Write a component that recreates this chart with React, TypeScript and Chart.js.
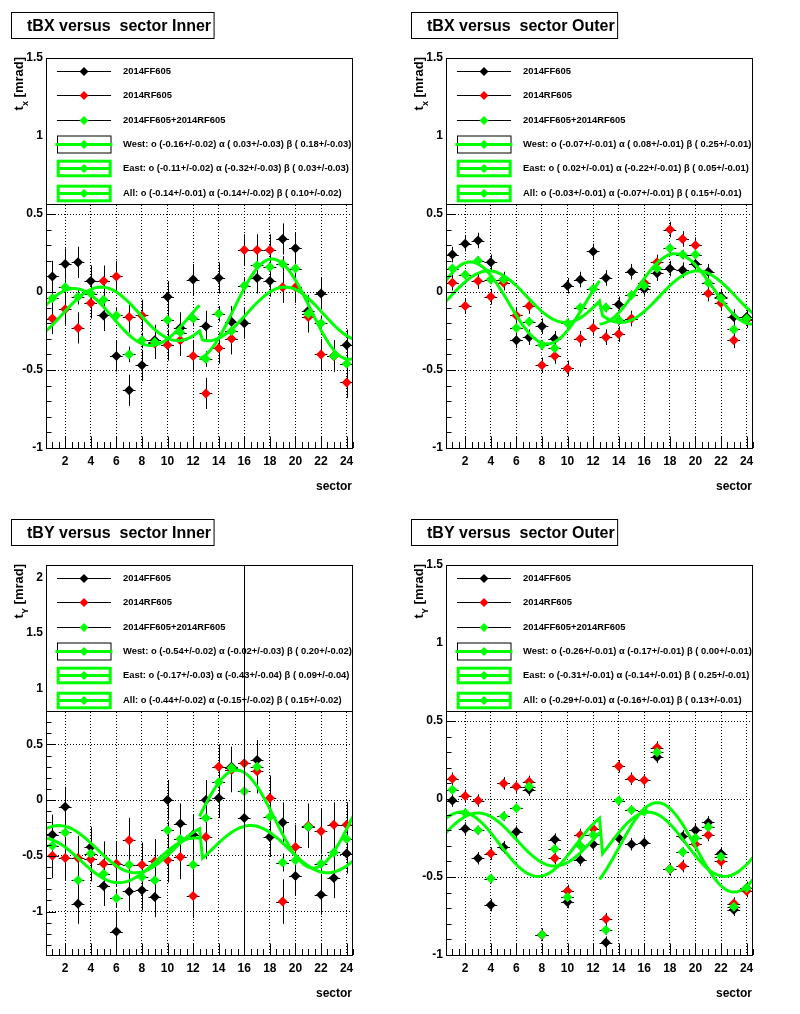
import React, { useEffect, useRef } from "react";
import { Chart, registerables } from "chart.js";

Chart.register(...registerables);

const FONT = '"Liberation Sans", Arial, Helvetica, sans-serif';
const BLACK = "#000000";
const RED = "#ff0000";
const GREEN = "#00ff00";

// ---------- shared categories / ticks ----------
const sectors = [1, 2, 3, 4, 5, 6, 7, 8, 9, 10, 11, 12, 13, 14, 15, 16, 17, 18, 19, 20, 21, 22, 23, 24];
const xTickValues = [2, 4, 6, 8, 10, 12, 14, 16, 18, 20, 22, 24];
const yTicksStandard = [-1, -0.5, 0, 0.5, 1, 1.5];
const yTicksInnerY = [-1, -0.5, 0, 0.5, 1, 1.5, 2];
const seriesLabels = ["2014FF605", "2014RF605", "2014FF605+2014RF605"];
const fitLabels = ["West", "East", "All"];

// ---------- tBX Inner ----------
const tbxInnerFF = [0.10, 0.18, 0.19, 0.07, -0.15, -0.41, -0.63, -0.47, -0.31, -0.03, -0.23, 0.08, -0.22, 0.09, -0.19, -0.20, 0.09, 0.07, 0.34, 0.28, -0.12, -0.01, -0.41, -0.34];
const tbxInnerRF = [-0.17, -0.11, -0.23, -0.07, 0.07, 0.10, -0.16, -0.15, -0.33, -0.34, -0.31, -0.41, -0.65, -0.36, -0.30, 0.27, 0.27, 0.27, 0.03, 0.03, -0.16, -0.40, -0.41, -0.58];
const tbxInnerAll = [-0.04, 0.03, -0.03, -0.01, -0.05, -0.15, -0.40, -0.31, -0.32, -0.18, -0.26, -0.17, -0.43, -0.14, -0.25, 0.04, 0.17, 0.16, 0.18, 0.15, -0.14, -0.20, -0.41, -0.46];
const tbxInnerErrors = [0.10, 0.10, 0.05];
// fit parameters: o, alpha, beta  and their errors
const tbxInnerWest = [-0.16, 0.03, 0.18];
const tbxInnerWestErr = [0.02, 0.03, 0.03];
const tbxInnerEast = [-0.11, -0.32, 0.03];
const tbxInnerEastErr = [0.02, 0.03, 0.03];
const tbxInnerFitAll = [-0.14, -0.14, 0.10];
const tbxInnerFitAllErr = [0.01, 0.02, 0.02];

// ---------- tBX Outer ----------
const tbxOuterFF = [0.24, 0.31, 0.33, 0.19, 0.08, -0.31, -0.29, -0.22, -0.30, 0.04, 0.08, 0.26, 0.09, -0.08, 0.13, 0.02, 0.12, 0.15, 0.14, 0.18, 0.13, -0.03, -0.16, -0.16];
const tbxOuterRF = [0.06, -0.09, 0.07, -0.03, 0.06, -0.15, -0.09, -0.47, -0.41, -0.49, -0.30, -0.23, -0.29, -0.27, -0.17, 0.06, 0.19, 0.40, 0.34, 0.30, -0.01, -0.07, -0.31, -0.18];
const tbxOuterAll = [0.15, 0.11, 0.20, 0.08, 0.08, -0.23, -0.19, -0.34, -0.36, -0.20, -0.10, 0.02, -0.10, -0.18, -0.02, 0.04, 0.15, 0.28, 0.24, 0.24, 0.06, -0.04, -0.24, -0.17];
const tbxOuterErrors = [0.05, 0.05, 0.03];
const tbxOuterWest = [-0.07, 0.08, 0.25];
const tbxOuterWestErr = [0.01, 0.01, 0.01];
const tbxOuterEast = [0.02, -0.22, 0.05];
const tbxOuterEastErr = [0.01, 0.01, 0.01];
const tbxOuterFitAll = [-0.03, -0.07, 0.15];
const tbxOuterFitAllErr = [0.01, 0.01, 0.01];

// ---------- tBY Inner ----------
const tbyInnerFF = [-0.31, -0.06, -0.93, -0.42, -0.77, -1.18, -0.82, -0.81, -0.87, 0.00, -0.21, -0.31, 0.00, 0.02, 0.30, -0.16, 0.36, -0.33, -0.20, -0.68, -0.24, -0.85, -0.70, -0.48];
const tbyInnerRF = [-0.50, -0.52, -0.52, -0.53, -0.57, -0.57, -0.36, -0.58, -0.55, -0.54, -0.51, -0.86, -0.33, 0.30, 0.27, 0.33, 0.26, 0.02, -0.91, -0.42, -0.23, -0.28, -0.22, -0.22];
const tbyInnerAll = [-0.41, -0.29, -0.72, -0.48, -0.66, -0.88, -0.58, -0.69, -0.72, -0.27, -0.35, -0.58, -0.16, 0.16, 0.29, 0.08, 0.30, -0.15, -0.56, -0.54, -0.24, -0.57, -0.47, -0.35];
const tbyInnerErrors = [0.18, 0.2, 0.08];
const tbyInnerWest = [-0.54, -0.02, 0.20];
const tbyInnerWestErr = [0.02, 0.03, 0.02];
const tbyInnerEast = [-0.17, -0.43, 0.09];
const tbyInnerEastErr = [0.03, 0.04, 0.04];
const tbyInnerFitAll = [-0.44, -0.15, 0.15];
const tbyInnerFitAllErr = [0.02, 0.02, 0.02];
const tbyInnerMarkerLine = 16;

// ---------- tBY Outer ----------
const tbyOuterFF = [-0.01, -0.19, -0.38, -0.68, -0.31, -0.21, 0.06, -0.87, -0.26, -0.66, -0.39, -0.29, -0.92, -0.25, -0.29, -0.28, 0.27, -0.45, -0.24, -0.20, -0.15, -0.35, -0.71, -0.57];
const tbyOuterRF = [0.13, 0.02, -0.01, -0.35, 0.10, 0.08, 0.11, -0.87, -0.38, -0.59, -0.23, -0.19, -0.77, 0.21, 0.13, 0.12, 0.33, -0.45, -0.43, -0.29, -0.23, -0.40, -0.67, -0.59];
const tbyOuterAll = [0.06, -0.09, -0.20, -0.51, -0.11, -0.06, 0.08, -0.87, -0.32, -0.63, -0.30, -0.23, -0.84, -0.01, -0.07, -0.08, 0.30, -0.45, -0.34, -0.25, -0.18, -0.37, -0.69, -0.57];
const tbyOuterErrors = [0.04, 0.04, 0.03];
const tbyOuterWest = [-0.26, -0.17, 0.00];
const tbyOuterWestErr = [0.01, 0.01, 0.01];
const tbyOuterEast = [-0.31, -0.14, 0.25];
const tbyOuterEastErr = [0.01, 0.01, 0.01];
const tbyOuterFitAll = [-0.29, -0.16, 0.13];
const tbyOuterFitAllErr = [0.01, 0.01, 0.01];

type Panel = {
  title: string;
  kind: "x" | "y";
  sub: string;
  yMin: number;
  yMax: number;
  yTicks: number[];
  ff: number[];
  rf: number[];
  all: number[];
  errors: number[];
  fits: number[][];
  fitErrs: number[][];
  vline?: number;
  left: number;
  top: number;
};

const panels: Panel[] = [
  {
    title: "tBX versus  sector Inner", kind: "x", sub: "x", yMin: -1, yMax: 1.5, yTicks: yTicksStandard,
    ff: tbxInnerFF, rf: tbxInnerRF, all: tbxInnerAll, errors: tbxInnerErrors,
    fits: [tbxInnerWest, tbxInnerEast, tbxInnerFitAll], fitErrs: [tbxInnerWestErr, tbxInnerEastErr, tbxInnerFitAllErr],
    left: 0, top: 0,
  },
  {
    title: "tBX versus  sector Outer", kind: "x", sub: "x", yMin: -1, yMax: 1.5, yTicks: yTicksStandard,
    ff: tbxOuterFF, rf: tbxOuterRF, all: tbxOuterAll, errors: tbxOuterErrors,
    fits: [tbxOuterWest, tbxOuterEast, tbxOuterFitAll], fitErrs: [tbxOuterWestErr, tbxOuterEastErr, tbxOuterFitAllErr],
    left: 400, top: 0,
  },
  {
    title: "tBY versus  sector Inner", kind: "y", sub: "Y", yMin: -1.39, yMax: 2.11, yTicks: yTicksInnerY,
    ff: tbyInnerFF, rf: tbyInnerRF, all: tbyInnerAll, errors: tbyInnerErrors,
    fits: [tbyInnerWest, tbyInnerEast, tbyInnerFitAll], fitErrs: [tbyInnerWestErr, tbyInnerEastErr, tbyInnerFitAllErr],
    vline: tbyInnerMarkerLine,
    left: 0, top: 507,
  },
  {
    title: "tBY versus  sector Outer", kind: "y", sub: "Y", yMin: -1, yMax: 1.5, yTicks: yTicksStandard,
    ff: tbyOuterFF, rf: tbyOuterRF, all: tbyOuterAll, errors: tbyOuterErrors,
    fits: [tbyOuterWest, tbyOuterEast, tbyOuterFitAll], fitErrs: [tbyOuterWestErr, tbyOuterEastErr, tbyOuterFitAllErr],
    left: 400, top: 507,
  },
];

// fit model: West sectors 1-12 and East sectors 13-24 have their own azimuth
function fitValue(kind: "x" | "y", p: number[], s: number, west: boolean): number {
  const [o, a, b] = p;
  const phi = ((west ? 90 - 30 * s : 30 * s - 270) * Math.PI) / 180;
  if (kind === "x") return o + a * Math.sin(phi) + b * Math.cos(phi);
  return west ? o - a * Math.cos(phi) + b * Math.sin(phi) : o + a * Math.cos(phi) - b * Math.sin(phi);
}

function curvePoints(kind: "x" | "y", p: number[], from: number, to: number, side: "W" | "E" | "A") {
  const n = 100;
  const out: { x: number; y: number }[] = [];
  for (let i = 0; i <= n; i++) {
    const s = from + ((to - from) * i) / n;
    const west = side === "W" ? true : side === "E" ? false : s <= 12.5;
    out.push({ x: s, y: fitValue(kind, p, s, west) });
  }
  return out;
}

const fmt = (v: number) => (v < 0 ? v.toFixed(2) : " " + v.toFixed(2));

function fitText(label: string, p: number[], e: number[]) {
  return `${label}: o (${fmt(p[0])}+/-${e[0].toFixed(2)}) \u03b1 (${fmt(p[1])}+/-${e[1].toFixed(2)}) \u03b2 (${fmt(p[2])}+/-${e[2].toFixed(2)})`;
}

function diamond(ctx: CanvasRenderingContext2D, x: number, y: number, r: number, color: string) {
  ctx.beginPath();
  ctx.moveTo(x, y - r);
  ctx.lineTo(x + r, y);
  ctx.lineTo(x, y + r);
  ctx.lineTo(x - r, y);
  ctx.closePath();
  ctx.fillStyle = color;
  ctx.fill();
}

function makeChart(canvas: HTMLCanvasElement, p: Panel) {
  const pts = (vals: number[]) => sectors.map((s, i) => ({ x: s, y: vals[i] }));
  const curveStyle = { showLine: true, borderColor: GREEN, borderWidth: 3, pointRadius: 0, tension: 0, fill: false };
  const markerStyle = (c: string) => ({ showLine: false, pointStyle: "rectRot", pointRadius: 5, backgroundColor: c, borderColor: c, borderWidth: 0 });

  const datasets: any[] = [
    { data: curvePoints(p.kind, p.fits[0], 0.5, 12.5, "W"), ...curveStyle },
    { data: curvePoints(p.kind, p.fits[1], 12.5, 24.5, "E"), ...curveStyle },
    { data: curvePoints(p.kind, p.fits[2], 0.5, 24.5, "A"), ...curveStyle },
    { data: pts(p.all), ...markerStyle(GREEN) },
    { data: pts(p.rf), ...markerStyle(RED) },
    { data: pts(p.ff), ...markerStyle(BLACK) },
  ];

  const rootPlugin = {
    id: "rootStyle",
    beforeDatasetsDraw(chart: any) {
      const { ctx, chartArea, scales } = chart;
      const xs = scales.x, ys = scales.y;
      ctx.save();
      ctx.beginPath();
      ctx.rect(chartArea.left, chartArea.top, chartArea.right - chartArea.left, chartArea.bottom - chartArea.top);
      ctx.clip();
      ctx.strokeStyle = BLACK;
      ctx.lineWidth = 1;
      const series = [p.ff, p.rf, p.all];
      series.forEach((vals, k) => {
        const err = p.errors[k];
        vals.forEach((v, i) => {
          const s = sectors[i];
          const px = Math.round(xs.getPixelForValue(s)) + 0.5;
          const py = Math.round(ys.getPixelForValue(v)) + 0.5;
          ctx.beginPath();
          ctx.moveTo(px, ys.getPixelForValue(v - err));
          ctx.lineTo(px, ys.getPixelForValue(v + err));
          ctx.moveTo(xs.getPixelForValue(s - 0.5), py);
          ctx.lineTo(xs.getPixelForValue(s + 0.5), py);
          ctx.stroke();
        });
      });
      ctx.restore();
    },
    afterDatasetsDraw(chart: any) {
      const { ctx, chartArea, scales } = chart;
      const xs = scales.x, ys = scales.y;
      const L = chartArea.left, R = chartArea.right, T = chartArea.top, B = chartArea.bottom;
      ctx.save();
      ctx.strokeStyle = BLACK;
      ctx.lineWidth = 1;
      // axis tick marks (inside the frame)
      ctx.beginPath();
      for (let k = Math.ceil(p.yMin * 10 - 1e-6); k <= Math.floor(p.yMax * 10 + 1e-6); k++) {
        const v = k / 10;
        const major = k % 5 === 0;
        const y = Math.round(ys.getPixelForValue(v)) + 0.5;
        ctx.moveTo(L, y);
        ctx.lineTo(L + (major ? 10 : 5.5), y);
      }
      for (let k = 1; k <= 49; k++) {
        const v = k / 2;
        const major = k % 4 === 0;
        const x = Math.round(xs.getPixelForValue(v)) + 0.5;
        ctx.moveTo(x, B);
        ctx.lineTo(x, B - (major ? 11.5 : 6));
      }
      ctx.stroke();
      // frame
      ctx.strokeRect(L + 0.5, T + 0.5, R - L - 1, B - T);

      // legend box
      const LH = 146;
      ctx.fillStyle = "#ffffff";
      ctx.fillRect(L, T, R - L, LH);
      ctx.strokeRect(L + 0.5, T + 0.5, R - L - 1, LH);
      const rowY = (i: number) => T + 12.7 + i * 24.4;
      const sx0 = L + 11, sx1 = L + 65, mx = L + 38;
      const colors = [BLACK, RED, GREEN];
      ctx.font = `bold 9.4px ${FONT}`;
      ctx.textBaseline = "middle";
      ctx.textAlign = "left";
      for (let i = 0; i < 3; i++) {
        const cy = Math.round(rowY(i)) + 0.5;
        ctx.strokeStyle = BLACK;
        ctx.lineWidth = 1;
        ctx.beginPath();
        ctx.moveTo(sx0, cy);
        ctx.lineTo(sx1, cy);
        ctx.stroke();
        diamond(ctx, mx, cy, 4.5, colors[i]);
        ctx.fillStyle = BLACK;
        ctx.fillText(seriesLabels[i], L + 77, cy);
      }
      for (let j = 0; j < 3; j++) {
        const cy = Math.round(rowY(3 + j)) + 0.5;
        if (j === 0) {
          ctx.strokeStyle = BLACK;
          ctx.lineWidth = 1;
          ctx.strokeRect(L + 11.5, cy - 8.5, 53.5, 17);
          ctx.strokeStyle = GREEN;
          ctx.lineWidth = 3;
          ctx.beginPath();
          ctx.moveTo(L + 9.5, cy);
          ctx.lineTo(L + 66.5, cy);
          ctx.stroke();
        } else {
          ctx.strokeStyle = GREEN;
          ctx.lineWidth = 3;
          ctx.strokeRect(L + 12.2, cy - 7.3, 52, 14.6);
          ctx.beginPath();
          ctx.moveTo(L + 12.2, cy);
          ctx.lineTo(L + 64.2, cy);
          ctx.stroke();
        }
        diamond(ctx, mx, cy, 4.5, GREEN);
        ctx.fillStyle = BLACK;
        ctx.fillText(fitText(fitLabels[j], p.fits[j], p.fitErrs[j]), L + 77, cy);
      }

      // extra vertical line
      if (p.vline !== undefined) {
        const x = Math.round(xs.getPixelForValue(p.vline)) + 0.5;
        ctx.strokeStyle = BLACK;
        ctx.lineWidth = 1;
        ctx.beginPath();
        ctx.moveTo(x, T);
        ctx.lineTo(x, B);
        ctx.stroke();
      }
      ctx.restore();
    },
    afterDraw(chart: any) {
      const { ctx, chartArea } = chart;
      const T = chartArea.top, B = chartArea.bottom, R = chartArea.right;
      ctx.save();
      ctx.fillStyle = BLACK;
      ctx.strokeStyle = BLACK;
      ctx.lineWidth = 1;
      // title box
      ctx.font = `bold 16px ${FONT}`;
      ctx.textBaseline = "alphabetic";
      ctx.textAlign = "left";
      const tw = ctx.measureText(p.title).width;
      ctx.strokeRect(11.5, 12.5, 27 + tw + 3 - 11.5, 26);
      ctx.fillText(p.title, 27, 30.5);
      // x title
      ctx.font = `bold 12px ${FONT}`;
      ctx.textAlign = "right";
      ctx.fillText("sector", R - 1, B + 42);
      // y title
      const fMain = `bold 13px ${FONT}`;
      const fSub = `bold 9px ${FONT}`;
      ctx.textAlign = "left";
      ctx.font = fMain;
      const w1 = ctx.measureText("t").width;
      const w3 = ctx.measureText(" [mrad]").width;
      ctx.font = fSub;
      const w2 = ctx.measureText(p.sub).width;
      ctx.translate(23, T - 1);
      ctx.rotate(-Math.PI / 2);
      const x0 = -(w1 + w2 + w3);
      ctx.font = fMain;
      ctx.fillText("t", x0, 0);
      ctx.font = fSub;
      ctx.fillText(p.sub, x0 + w1, 5);
      ctx.font = fMain;
      ctx.fillText(" [mrad]", x0 + w1 + w2, 0);
      ctx.restore();
    },
  };

  const tickFont = { family: FONT, size: 12, weight: "bold" as const };

  return new Chart(canvas, {
    type: "scatter",
    data: { datasets },
    plugins: [rootPlugin],
    options: {
      responsive: false,
      animation: false,
      events: [],
      layout: { padding: { left: 0, right: 47, top: 58, bottom: 0 } },
      plugins: { legend: { display: false }, tooltip: { enabled: false }, title: { display: false } },
      scales: {
        x: {
          type: "linear",
          min: 0.5,
          max: 24.5,
          afterBuildTicks: (s: any) => {
            s.ticks = xTickValues.map((v) => ({ value: v }));
          },
          afterFit: (s: any) => {
            s.height = 59;
          },
          grid: { color: BLACK, lineWidth: 1, drawTicks: false },
          border: { display: false, dash: [1, 2] },
          ticks: { color: BLACK, font: tickFont, padding: 6, maxRotation: 0, autoSkip: false, callback: (v: any) => String(v) },
        },
        y: {
          type: "linear",
          min: p.yMin,
          max: p.yMax,
          afterBuildTicks: (s: any) => {
            s.ticks = p.yTicks.map((v) => ({ value: v }));
          },
          afterFit: (s: any) => {
            s.width = 46;
          },
          grid: { color: BLACK, lineWidth: 1, drawTicks: false },
          border: { display: false, dash: [1, 2] },
          ticks: { color: BLACK, font: tickFont, padding: 3, autoSkip: false, callback: (v: any) => String(v) },
        },
      },
    } as any,
  });
}

function PanelChart({ panel }: { panel: Panel }) {
  const ref = useRef<HTMLCanvasElement | null>(null);
  useEffect(() => {
    if (!ref.current) return;
    const chart = makeChart(ref.current, panel);
    return () => chart.destroy();
  }, [panel]);
  return (
    <div style={{ position: "absolute", left: panel.left, top: panel.top, width: 400, height: 507 }}>
      <canvas ref={ref} width={400} height={507} style={{ width: 400, height: 507, display: "block" }} />
    </div>
  );
}

export default function App() {
  return (
    <div style={{ position: "absolute", left: 0, top: 0, width: 800, height: 1014, background: "#ffffff" }}>
      {panels.map((p, i) => (
        <PanelChart key={i} panel={p} />
      ))}
    </div>
  );
}
